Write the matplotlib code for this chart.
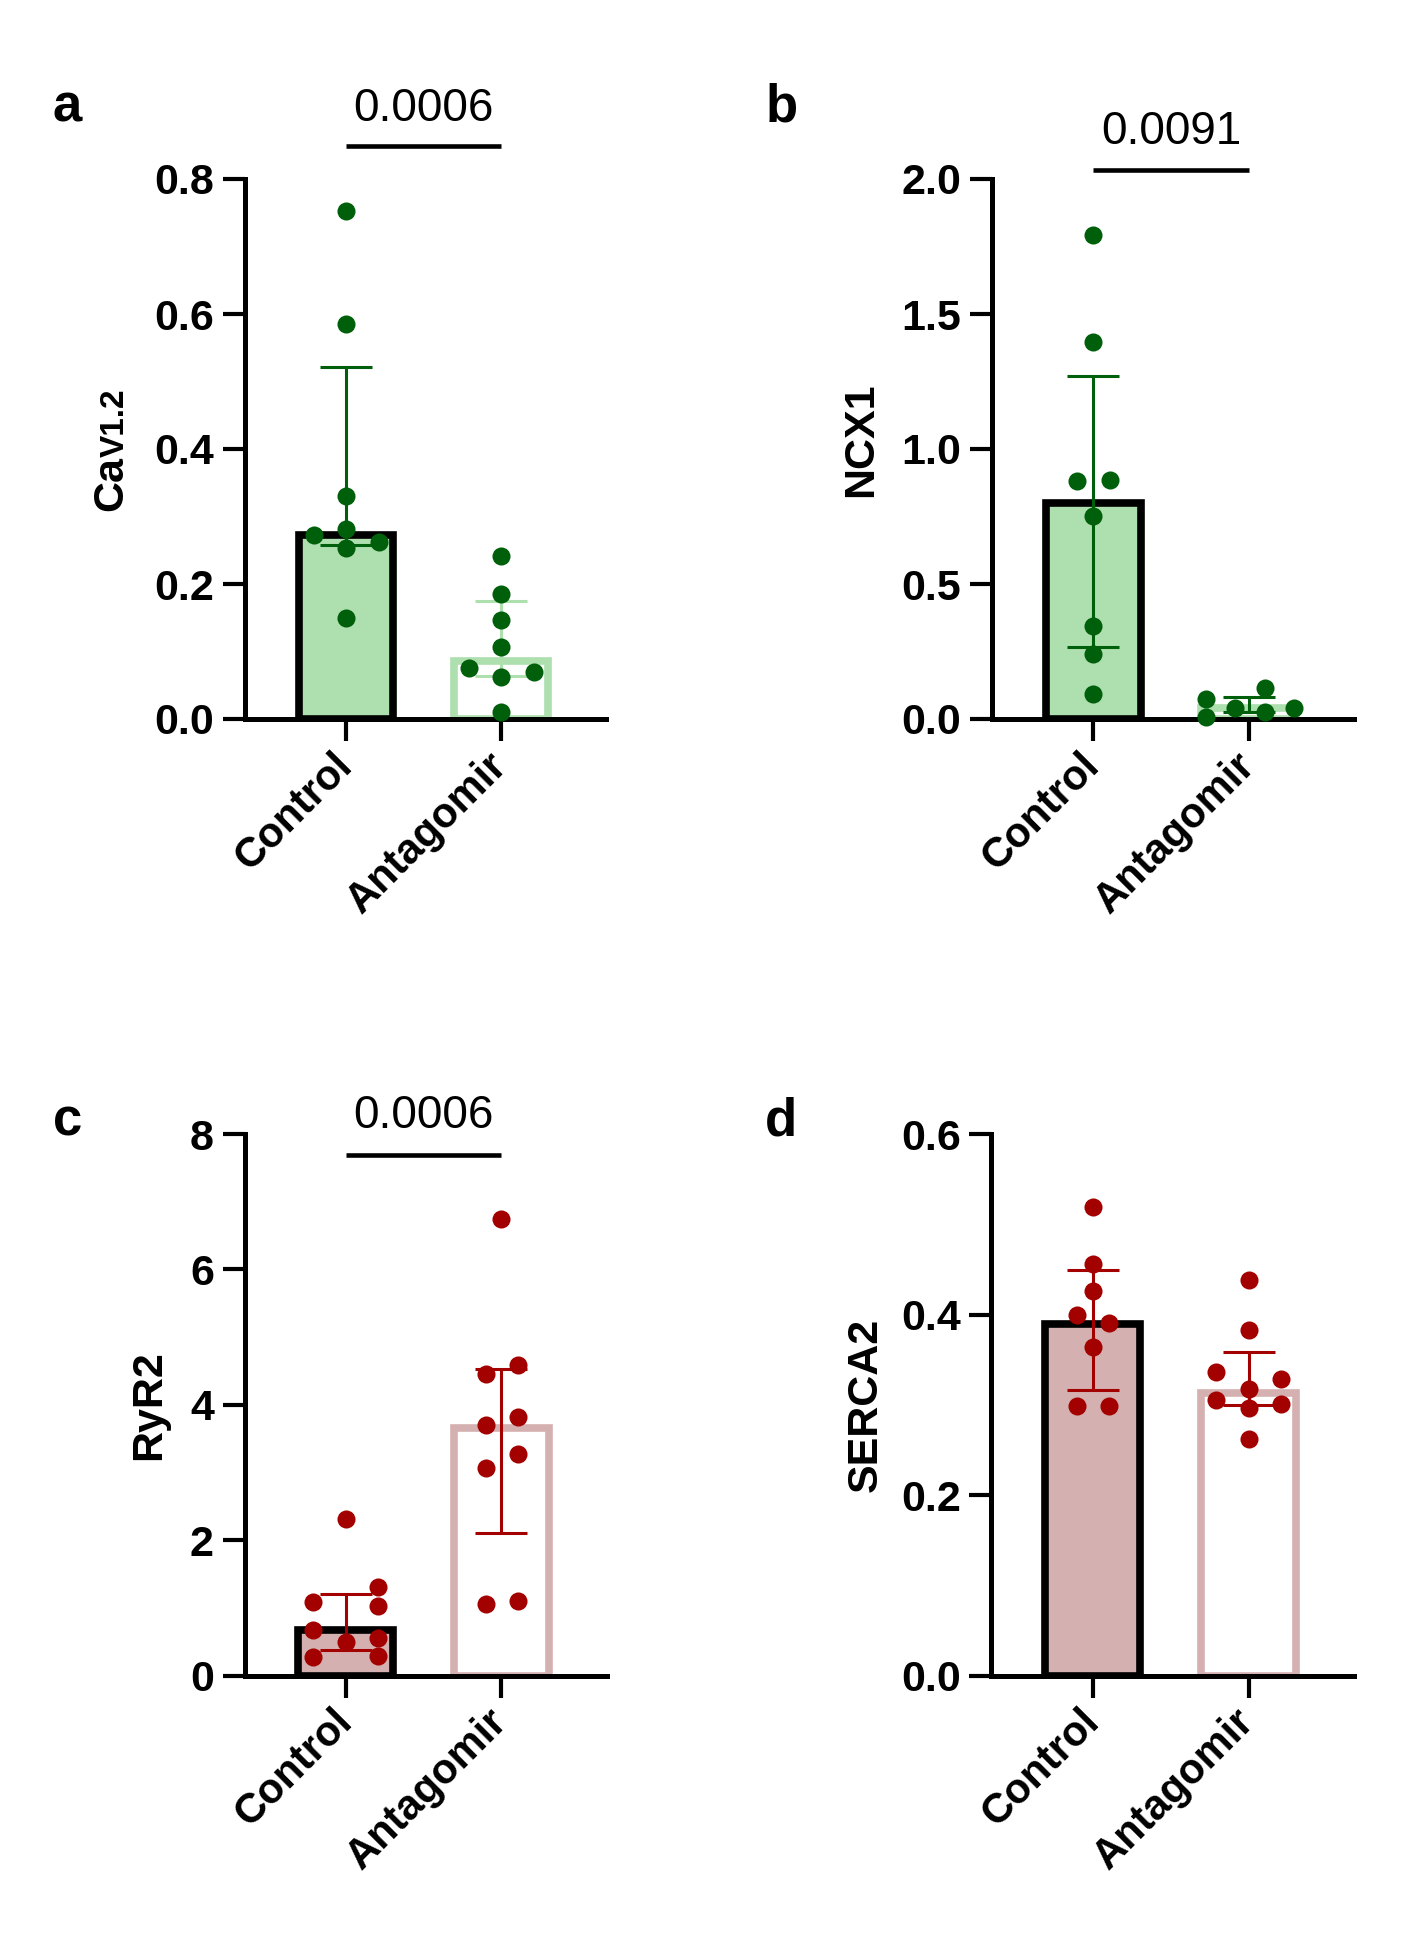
import matplotlib
matplotlib.use("Agg")
import matplotlib.pyplot as plt
import numpy as np

plt.rcParams['font.family'] = ['Liberation Sans', 'DejaVu Sans']

groups = ["Control", "Antagomir"]

# ---- panel a: CaV1.2 ----
a_ctrl = [0.753, 0.585, 0.330, 0.282, 0.272, 0.262, 0.254, 0.149]
a_anta = [0.241, 0.185, 0.146, 0.106, 0.076, 0.070, 0.062, 0.011]
a_bar = [0.272, 0.086]
a_err_lo = [0.258, 0.064]
a_err_hi = [0.521, 0.175]
a_p = "0.0006"

# ---- panel b: NCX1 ----
b_ctrl = [1.794, 1.397, 0.880, 0.887, 0.751, 0.346, 0.239, 0.093]
b_anta = [0.116, 0.073, 0.042, 0.040, 0.027, 0.008]
b_bar = [0.799, 0.040]
b_err_lo = [0.267, 0.025]
b_err_hi = [1.271, 0.083]
b_p = "0.0091"

# ---- panel c: RyR2 ----
c_ctrl = [2.313, 1.312, 1.087, 1.027, 0.676, 0.550, 0.490, 0.278, 0.290]
c_anta = [6.74, 4.59, 4.46, 3.82, 3.70, 3.27, 3.07, 1.06, 1.107]
c_bar = [0.67, 3.65]
c_err_lo = [0.384, 2.10]
c_err_hi = [1.206, 4.53]
c_p = "0.0006"

# ---- panel d: SERCA2 ----
d_ctrl = [0.519, 0.456, 0.4265, 0.400, 0.391, 0.364, 0.299, 0.299]
d_anta = [0.438, 0.383, 0.336, 0.329, 0.317, 0.305, 0.301, 0.297, 0.262]
d_bar = [0.390, 0.313]
d_err_lo = [0.316, 0.300]
d_err_hi = [0.449, 0.359]

# swarm offsets (layout, in category units)
a_ctrl_dx = [0, 0, 0, 0, -0.21, 0.21, 0, 0]
a_anta_dx = [0, 0, 0, 0, -0.21, 0.21, 0, 0]
b_ctrl_dx = [0, 0, -0.105, 0.105, 0, 0, 0, 0]
b_anta_dx = [0.103, -0.272, -0.089, 0.292, 0.103, -0.272]
c_ctrl_dx = [0, 0.21, -0.21, 0.21, -0.21, 0.21, 0, -0.21, 0.21]
c_anta_dx = [0, 0.107, -0.10, 0.107, -0.10, 0.107, -0.10, -0.10, 0.107]
d_ctrl_dx = [0, 0, 0, -0.105, 0.105, 0, -0.105, 0.105]
d_anta_dx = [0, 0, -0.21, 0.21, 0, -0.21, 0.21, 0, 0]

GREEN_FILL = '#AEDFAE'
GREEN_DOT = '#005F0A'
RED_FILL = '#D5B0B0'
RED_DOT = '#A30000'

W, H = 1419, 1954
fig = plt.figure(figsize=(W / 100, H / 100), dpi=100)

def axpos(l, r, t, b):
    return [l / W, 1 - b / H, (r - l) / W, (b - t) / H]

XLIM = (-0.652, 1.677)
panels = [
    dict(pos=axpos(245, 606, 179, 719), ylim=(0, 0.8),
         yticks=[0, 0.2, 0.4, 0.6, 0.8], ylabs=['0.0', '0.2', '0.4', '0.6', '0.8'],
         ctrl=a_ctrl, anta=a_anta, cdx=a_ctrl_dx, adx=a_anta_dx,
         bar=a_bar, lo=a_err_lo, hi=a_err_hi, fill=GREEN_FILL, dot=GREEN_DOT,
         ecol=[GREEN_DOT, GREEN_FILL], p=a_p, pline=0.849, ptext=0.886,
         letter='a', lpos=(53, 121)),
    dict(pos=axpos(992, 1354, 179, 719), ylim=(0, 2.0),
         yticks=[0, 0.5, 1.0, 1.5, 2.0], ylabs=['0.0', '0.5', '1.0', '1.5', '2.0'],
         ctrl=b_ctrl, anta=b_anta, cdx=b_ctrl_dx, adx=b_anta_dx,
         bar=b_bar, lo=b_err_lo, hi=b_err_hi, fill=GREEN_FILL, dot=GREEN_DOT,
         ecol=[GREEN_DOT, GREEN_DOT], p=b_p, pline=2.033, ptext=2.13,
         letter='b', lpos=(766, 121), ylabel='NCX1', ylx=-0.330, yly=0.518),
    dict(pos=axpos(244.5, 606.5, 1134, 1675.6), ylim=(0, 8),
         yticks=[0, 2, 4, 6, 8], ylabs=['0', '2', '4', '6', '8'],
         ctrl=c_ctrl, anta=c_anta, cdx=c_ctrl_dx, adx=c_anta_dx,
         bar=c_bar, lo=c_err_lo, hi=c_err_hi, fill=RED_FILL, dot=RED_DOT,
         ecol=[RED_DOT, RED_DOT], p=c_p, pline=7.69, ptext=8.09,
         letter='c', lpos=(53, 1136), ylabel='RyR2', ylx=-0.233, yly=0.5),
    dict(pos=axpos(991.4, 1354, 1134, 1675.6), ylim=(0, 0.6),
         yticks=[0, 0.2, 0.4, 0.6], ylabs=['0.0', '0.2', '0.4', '0.6'],
         ctrl=d_ctrl, anta=d_anta, cdx=d_ctrl_dx, adx=d_anta_dx,
         bar=d_bar, lo=d_err_lo, hi=d_err_hi, fill=RED_FILL, dot=RED_DOT,
         ecol=[RED_DOT, RED_DOT], p=None,
         letter='d', lpos=(765, 1136), ylabel='SERCA2', ylx=-0.317, yly=0.5),
]

SPINE_LW = 3.6
BAR_W = 0.61
BAR_LW = 5.5
for P in panels:
    ax = fig.add_axes(P['pos'])
    ax.set_xlim(*XLIM)
    ax.set_ylim(*P['ylim'])
    for s in ['top', 'right']:
        ax.spines[s].set_visible(False)
    for s in ['left', 'bottom']:
        ax.spines[s].set_linewidth(SPINE_LW)
        ax.spines[s].set_capstyle('projecting')
    x = np.arange(len(groups))
    ax.bar(x[0], P['bar'][0], width=BAR_W, color=P['fill'], edgecolor='black',
           linewidth=BAR_LW, zorder=1)
    ax.bar(x[1], P['bar'][1], width=BAR_W, color='white', edgecolor=P['fill'],
           linewidth=BAR_LW, zorder=1)
    for i in range(2):
        yerr = [[P['bar'][i] - P['lo'][i]], [P['hi'][i] - P['bar'][i]]]
        ax.errorbar([x[i]], [P['bar'][i]], yerr=yerr, fmt='none',
                    ecolor=P['ecol'][i], elinewidth=2.2, capsize=19, capthick=2.2,
                    zorder=2)
    for i, (vals, dx) in enumerate([(P['ctrl'], P['cdx']), (P['anta'], P['adx'])]):
        xs = x[i] + np.array(dx)
        ax.plot(xs, vals, 'o', color=P['dot'], markersize=13,
                markeredgewidth=0, zorder=5, clip_on=False)
    ax.set_yticks(P['yticks'])
    ax.set_yticklabels(P['ylabs'], fontsize=31, fontweight='bold')
    ax.set_xticks(x)
    ax.set_xticklabels(groups, fontsize=30, fontweight='bold', rotation=45,
                       ha='right', va='center', rotation_mode='anchor')
    ax.tick_params(axis='y', length=16, width=3, pad=6)
    ax.tick_params(axis='x', length=16, width=3, pad=13)
    if P['p'] is not None:
        ax.plot([0, 1], [P['pline'], P['pline']], color='black', lw=3.3,
                solid_capstyle='butt', clip_on=False)
        ax.text(0.5, P['ptext'], P['p'], fontsize=33, ha='center',
                va='baseline', clip_on=False)
    if 'ylabel' in P:
        ax.text(P['ylx'], P['yly'], P['ylabel'], transform=ax.transAxes,
                rotation=90, rotation_mode='anchor', ha='center', va='baseline',
                fontsize=31, fontweight='bold')
    else:
        ax.text(-0.341, 0.385, 'Ca', transform=ax.transAxes, rotation=90,
                rotation_mode='anchor', ha='left', va='baseline',
                fontsize=31, fontweight='bold')
        ax.text(-0.336, 0.485, 'V1.2', transform=ax.transAxes, rotation=90,
                rotation_mode='anchor', ha='left', va='baseline',
                fontsize=24, fontweight='bold')
    fig.text(P['lpos'][0] / W, 1 - P['lpos'][1] / H, P['letter'], fontsize=38,
             fontweight='bold', ha='left', va='baseline')

fig.savefig('out.png', dpi=100, facecolor='white')
